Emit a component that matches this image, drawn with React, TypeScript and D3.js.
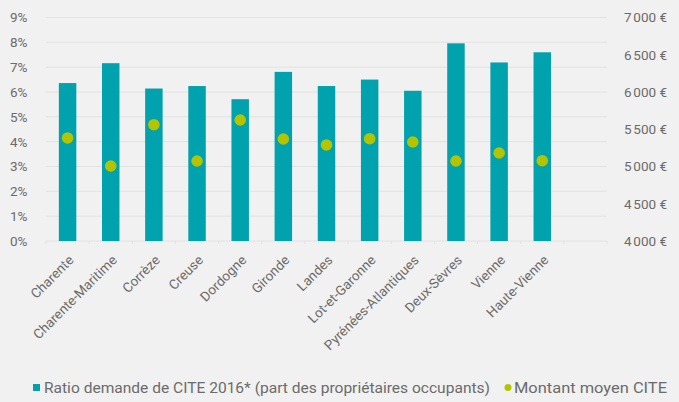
import React from 'react';
import * as d3 from 'd3';

// departements (last slot stays empty, as in the original chart)
const departements = [
  'Charente', 'Charente-Maritime', 'Corrèze', 'Creuse', 'Dordogne', 'Gironde',
  'Landes', 'Lot-et-Garonne', 'Pyrénées-Atlantiques', 'Deux-Sèvres', 'Vienne', 'Haute-Vienne'
];
const slots = [...departements, ''];

// ratio demande de CITE 2016 (share of owner-occupiers)
const ratioCite = [0.0636, 0.0716, 0.0614, 0.0624, 0.0571, 0.0681, 0.0624, 0.065, 0.0605, 0.0796, 0.0719, 0.076];
// montant moyen CITE (€)
const montantMoyen = [5383, 5007, 5561, 5074, 5624, 5369, 5289, 5373, 5329, 5074, 5181, 5078];

const leftTicks = [0, 0.01, 0.02, 0.03, 0.04, 0.05, 0.06, 0.07, 0.08, 0.09];
const rightTicks = [4000, 4500, 5000, 5500, 6000, 6500, 7000];

const settings = {
  width: 679,
  height: 402,
  left: 46,
  right: 607,
  top: 17.5,
  bottom: 241
};

const colors = {
  bg: '#f1f1f1',
  bar: '#00a2ad',
  dot: '#b4c400',
  grid: '#e2e2e2',
  text: '#6b6b6b'
};

const font = 'Roboto, "Noto Sans", sans-serif';

const euro = (v: number) => d3.format(',')(v).replace(/,/g, '\u202f') + '\u00a0€';

export default function App() {
  const {width, height, left, right, top, bottom} = settings;

  const x = d3.scaleBand<string>()
    .domain(slots)
    .range([left, right])
    .paddingInner(0.595)
    .paddingOuter(0.2975);

  const yLeft = d3.scaleLinear().domain([0, 0.09]).range([bottom, top]);
  const yRight = d3.scaleLinear().domain([4000, 7000]).range([bottom, top]);

  const step = x.step();
  const slotEdges = d3.range(slots.length + 1).map(i => left + i * step);

  return (
    <svg width={width} height={height}
         style={{position: 'absolute', left: 0, top: 0, display: 'block'}}
         fontFamily={font}>
      <rect x={0} y={0} width={width} height={height} fill={colors.bg} />

      {/* grid */}
      {leftTicks.map(t => (
        <line key={t} x1={left} x2={right} y1={yLeft(t)} y2={yLeft(t)}
              stroke={colors.grid} strokeWidth={1} />
      ))}
      {slotEdges.map((e, i) => (
        <line key={'tk' + i} x1={e} x2={e} y1={bottom} y2={bottom + 3}
              stroke={colors.grid} strokeWidth={1} />
      ))}

      {/* left axis labels */}
      {leftTicks.map(t => (
        <text key={'l' + t} x={10} y={yLeft(t)} dy="0.36em" fontSize={13.5}
              fill={colors.text}>{d3.format('.0%')(t)}</text>
      ))}

      {/* right axis labels */}
      {rightTicks.map(t => (
        <text key={'r' + t} x={667} y={yRight(t)} dy="0.36em" fontSize={13.5}
              textAnchor="end" fill={colors.text}>{euro(t)}</text>
      ))}

      {/* bars */}
      {departements.map((d, i) => (
        <rect key={'b' + d} x={x(d)} y={yLeft(ratioCite[i])} width={x.bandwidth()}
              height={bottom - yLeft(ratioCite[i])} fill={colors.bar} />
      ))}

      {/* dots */}
      {departements.map((d, i) => (
        <circle key={'c' + d} cx={(x(d) as number) + x.bandwidth() / 2} cy={yRight(montantMoyen[i])}
                r={5.8} fill={colors.dot} />
      ))}

      {/* category labels */}
      {departements.map(d => {
        const cx = (x(d) as number) + x.bandwidth() / 2 + 7;
        const cy = bottom + 20;
        return (
          <text key={'t' + d} x={cx} y={cy} fontSize={13.5} fill={colors.text}
                textAnchor="end" transform={`rotate(-45, ${cx}, ${cy})`}>{d}</text>
        );
      })}

      {/* legend */}
      <rect x={33} y={384} width={7} height={7} fill={colors.bar} />
      <text x={44} y={393} fontSize={14} fill={colors.text} textLength={446} lengthAdjust="spacingAndGlyphs">
        Ratio demande de CITE 2016* (part des propriétaires occupants)
      </text>
      <circle cx={508} cy={387.5} r={3.5} fill={colors.dot} />
      <text x={514} y={393} fontSize={14} fill={colors.text} textLength={153} lengthAdjust="spacingAndGlyphs">
        Montant moyen CITE
      </text>
    </svg>
  );
}
